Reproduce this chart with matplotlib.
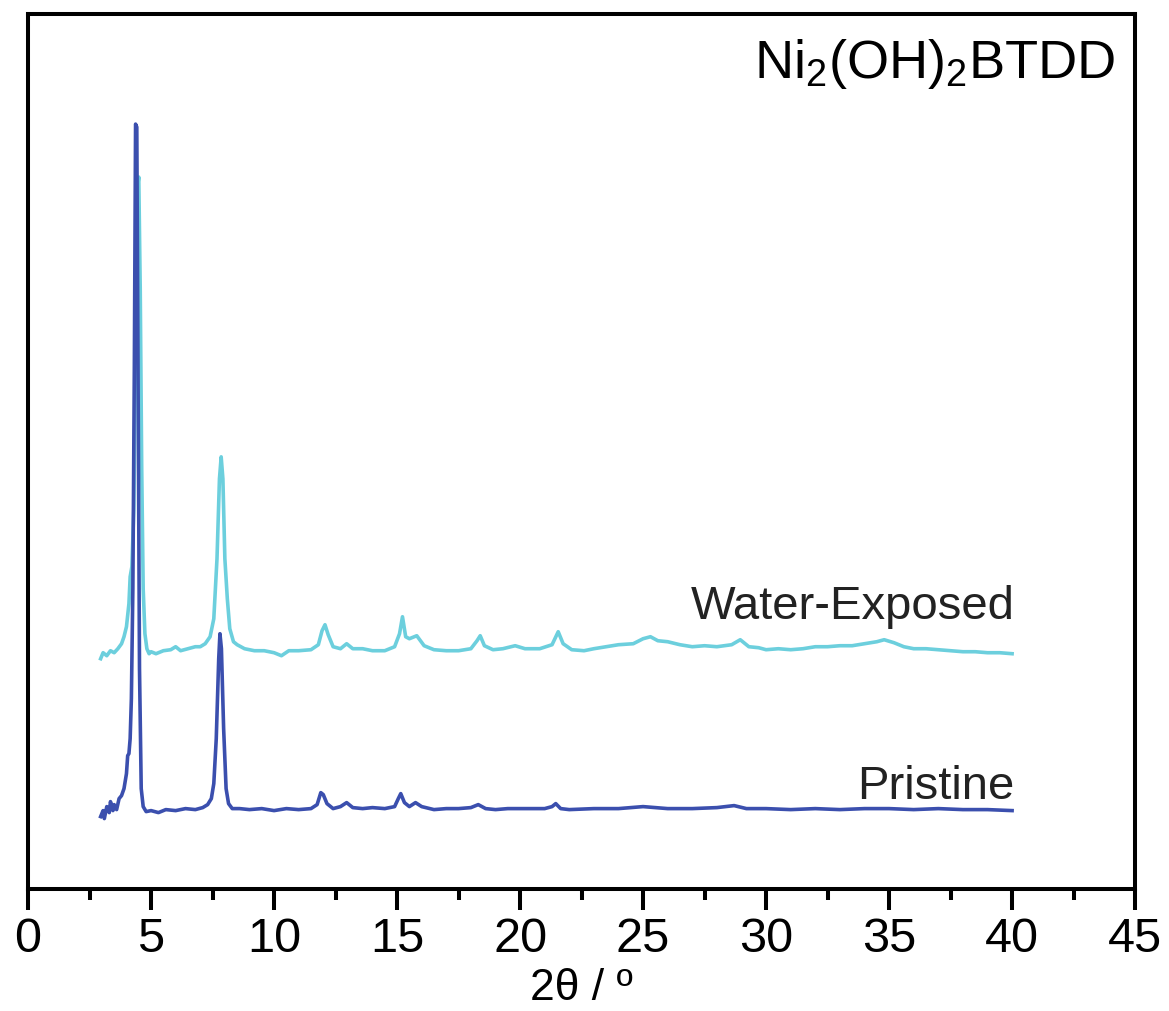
import numpy as np
import matplotlib
matplotlib.use("Agg")
import matplotlib.pyplot as plt
from matplotlib.ticker import MultipleLocator

plt.rcParams['font.family'] = ['Liberation Sans', 'DejaVu Sans']
plt.rcParams['mathtext.fontset'] = 'custom'
plt.rcParams['mathtext.rm'] = 'Liberation Sans'
plt.rcParams['mathtext.it'] = 'Liberation Sans'

# ---- data (intensity in arbitrary units, curves already offset) ----
tt_pristine = [2.95, 3.05, 3.1, 3.2, 3.3, 3.35, 3.45, 3.5, 3.6, 3.7, 3.8, 3.9, 4.0, 4.05, 4.1,
               4.15, 4.2, 4.26, 4.32, 4.37, 4.42, 4.47, 4.53, 4.6, 4.68, 4.8, 5.0, 5.3, 5.6,
               6.0, 6.4, 6.8, 7.1, 7.3, 7.45, 7.55, 7.65, 7.75, 7.8, 7.86, 7.95, 8.05, 8.15,
               8.3, 8.6, 9.0, 9.5, 10.0, 10.5, 11.0, 11.5, 11.75, 11.9, 12.0, 12.15, 12.4,
               12.7, 12.95, 13.2, 13.6, 14.0, 14.5, 14.9, 15.05, 15.15, 15.3, 15.5, 15.75,
               16.0, 16.5, 17.0, 17.5, 18.0, 18.3, 18.6, 19.0, 19.5, 20.0, 21.0, 21.3, 21.45,
               21.65, 22.0, 23.0, 24.0, 25.0, 26.0, 27.0, 28.0, 28.7, 29.2, 30.0, 31.0, 32.0,
               33.0, 34.0, 35.0, 36.0, 37.0, 38.0, 39.0, 40.0]
int_pristine = [72, 78, 70, 82, 76, 87, 78, 84, 79, 90, 93, 100, 115, 133, 135,
                150, 190, 300, 520, 765, 762, 520, 220, 100, 82, 77, 78, 76, 79,
                78, 80, 79, 81, 84, 90, 105, 150, 230, 255, 240, 160, 100, 85,
                80, 80, 79, 80, 78, 80, 79, 80, 84, 96, 94, 85, 80,
                82, 86, 81, 80, 81, 80, 82, 90, 95, 86, 82, 86,
                82, 79, 80, 80, 81, 84, 80, 79, 80, 80, 80, 82, 85,
                80, 79, 80, 80, 82, 80, 80, 81, 83, 80, 80, 79, 80,
                79, 80, 80, 79, 80, 79, 79, 78]

tt_water = [2.95, 3.05, 3.2, 3.35, 3.5, 3.65, 3.8, 3.9, 4.0, 4.1, 4.15, 4.22, 4.3, 4.37,
            4.44, 4.5, 4.56, 4.62, 4.68, 4.75, 4.83, 4.92, 5.0, 5.2, 5.5, 5.8, 6.0, 6.2, 6.5,
            6.8, 7.0, 7.2, 7.4, 7.55, 7.68, 7.78, 7.85, 7.92, 8.0, 8.1, 8.2, 8.35, 8.5, 8.8,
            9.2, 9.6, 10.0, 10.3, 10.6, 11.0, 11.5, 11.8, 11.95, 12.07, 12.2, 12.4, 12.7,
            12.95, 13.2, 13.6, 14.0, 14.5, 14.9, 15.1, 15.22, 15.35, 15.5, 15.8, 16.1, 16.5,
            17.0, 17.5, 18.0, 18.25, 18.38, 18.55, 18.9, 19.3, 19.8, 20.2, 20.8, 21.3, 21.55,
            21.75, 22.1, 22.6, 23.0, 23.5, 24.0, 24.6, 25.0, 25.3, 25.6, 26.0, 26.5, 27.0,
            27.5, 28.0, 28.6, 28.95, 29.3, 29.7, 30.0, 30.5, 31.0, 31.5, 32.0, 32.5, 33.0,
            33.5, 34.0, 34.5, 34.8, 35.2, 35.6, 36.0, 36.5, 37.0, 37.5, 38.0, 38.5, 39.0,
            39.5, 40.0]
int_water = [230, 236, 233, 238, 236, 240, 245, 252, 262, 285, 312, 322, 380, 540,
             700, 712, 600, 420, 300, 255, 240, 235, 237, 235, 238, 239, 242, 238, 240,
             242, 242, 245, 252, 270, 330, 410, 432, 410, 330, 290, 260, 247, 244, 240,
             238, 238, 236, 233, 238, 238, 239, 244, 258, 264, 254, 242, 240,
             245, 240, 240, 238, 238, 242, 255, 272, 252, 250, 253, 243, 239,
             238, 238, 240, 248, 253, 243, 239, 240, 243, 240, 240, 244, 257,
             245, 239, 238, 240, 242, 244, 245, 250, 252, 248, 247, 244, 242,
             243, 242, 244, 249, 242, 241, 239, 240, 239, 240, 242, 242, 243,
             243, 245, 247, 249, 246, 242, 240, 240, 239, 238, 237, 237, 236,
             236, 235]

labels = ["Pristine", "Water-Exposed"]
colors = ["#3b4fae", "#6ccfdd"]
x_ticks = [0, 5, 10, 15, 20, 25, 30, 35, 40, 45]

fig = plt.figure(figsize=(11.69, 10.12), dpi=100)
ax = fig.add_axes([0.024, 0.121, 0.947, 0.864])

ax.plot(tt_water, int_water, color=colors[1], lw=2.6)
ax.plot(tt_pristine, int_pristine, color=colors[0], lw=2.6)

ax.set_xlim(0, 45)
ax.set_ylim(0, 875)
ax.set_xticks(x_ticks)
ax.set_xticklabels([str(t) for t in x_ticks])
ax.xaxis.set_minor_locator(MultipleLocator(2.5))
ax.set_yticks([])
ax.tick_params(axis='x', which='major', direction='out', length=15, width=2.9,
               labelsize=35, pad=5)
ax.tick_params(axis='x', which='minor', direction='out', length=8, width=2.9)
for s in ax.spines.values():
    s.set_linewidth(2.9)

ax.set_xlabel("2θ / º", fontsize=32, labelpad=4)

ax.text(0.982, 0.975, r"Ni$_2$(OH)$_2$BTDD", transform=ax.transAxes,
        ha='right', va='top', fontsize=39)
ax.text(40.1, 283, labels[1], ha='right', va='center', fontsize=34, color='#222222')
ax.text(40.1, 103, labels[0], ha='right', va='center', fontsize=34, color='#222222')

fig.savefig("out.png", dpi=100)
